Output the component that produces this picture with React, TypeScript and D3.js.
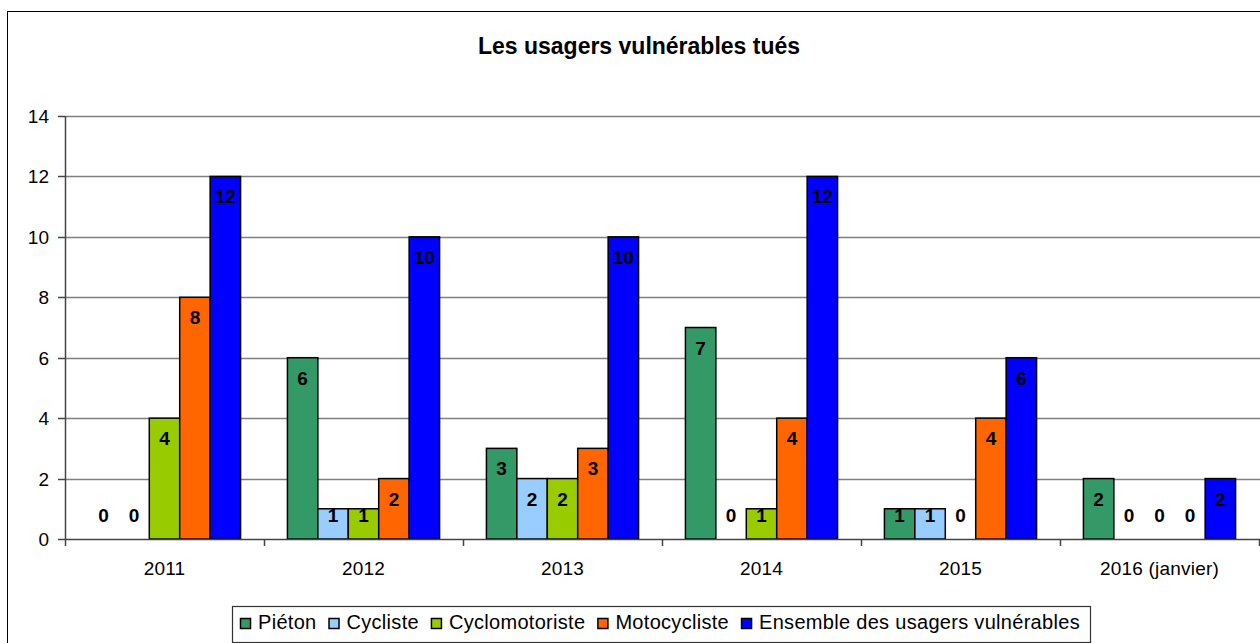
import React, { useEffect, useRef } from 'react';
import * as d3 from 'd3';

const categories = ['2011', '2012', '2013', '2014', '2015', '2016 (janvier)'];
const seriesNames = ['Piéton', 'Cycliste', 'Cyclomotoriste', 'Motocycliste', 'Ensemble des usagers vulnérables'];
const seriesColors = ['#339966', '#99CCFF', '#99CC00', '#FF6600', '#0000FF'];
const pieton = [0, 6, 3, 7, 1, 2];
const cycliste = [0, 1, 2, 0, 1, 0];
const cyclomotoriste = [4, 1, 2, 1, 0, 0];
const motocycliste = [8, 2, 3, 4, 4, 0];
const ensemble = [12, 10, 10, 12, 6, 2];
const yTicks = [0, 2, 4, 6, 8, 10, 12, 14];

const seriesValues = [pieton, cycliste, cyclomotoriste, motocycliste, ensemble];

const W = 1260;
const H = 643;
const FONT = 'Arial, "Liberation Sans", sans-serif';

const App: React.FC = () => {
  const svgRef = useRef<SVGSVGElement | null>(null);

  useEffect(() => {
    if (!svgRef.current) return;
    const svg = d3.select(svgRef.current);
    svg.selectAll('*').remove();

    const plot = { left: 65, right: 1259, top: 116, bottom: 539 };

    // outer frame
    svg.append('rect')
      .attr('x', 7.5).attr('y', 11.5)
      .attr('width', W + 20).attr('height', H + 20)
      .attr('fill', '#fff').attr('stroke', '#000').attr('stroke-width', 1);

    svg.append('text')
      .attr('x', 639).attr('y', 54)
      .attr('text-anchor', 'middle')
      .style('font-family', FONT).style('font-size', '23px').style('font-weight', 'bold')
      .text('Les usagers vulnérables tués');

    const x0 = d3.scaleBand<string>().domain(categories).range([plot.left, plot.right]);
    const x1 = d3.scaleBand<string>().domain(seriesNames).range([0, x0.bandwidth()]).paddingOuter(0.77);
    const y = d3.scaleLinear().domain([0, 14]).range([plot.bottom, plot.top]);

    // gridlines
    svg.append('g').selectAll('line')
      .data(yTicks.filter(t => t > 0))
      .enter().append('line')
      .attr('x1', plot.left).attr('x2', W)
      .attr('y1', d => Math.round(y(d)) + 0.5).attr('y2', d => Math.round(y(d)) + 0.5)
      .attr('stroke', '#808080').attr('stroke-width', 1.5);

    // y axis
    const yAxis = svg.append('g');
    yAxis.append('line')
      .attr('x1', plot.left + 0.5).attr('x2', plot.left + 0.5)
      .attr('y1', plot.top).attr('y2', plot.bottom)
      .attr('stroke', '#444').attr('stroke-width', 1.5);
    yAxis.selectAll('line.tick')
      .data(yTicks).enter().append('line')
      .attr('class', 'tick')
      .attr('x1', plot.left - 7).attr('x2', plot.left)
      .attr('y1', d => Math.round(y(d)) + 0.5).attr('y2', d => Math.round(y(d)) + 0.5)
      .attr('stroke', '#444').attr('stroke-width', 1.5);
    yAxis.selectAll('text')
      .data(yTicks).enter().append('text')
      .attr('x', plot.left - 16).attr('y', d => y(d) + 7)
      .attr('text-anchor', 'end')
      .style('font-family', FONT).style('font-size', '19px')
      .text(d => d);

    // bars
    const groups = svg.append('g').selectAll('g')
      .data(categories).enter().append('g')
      .attr('transform', d => `translate(${x0(d)},0)`);

    groups.each(function (cat, ci) {
      const g = d3.select(this);
      const items = seriesNames.map((name, si) => ({ name, si, value: seriesValues[si][ci] }));
      g.selectAll('rect')
        .data(items.filter(d => d.value > 0)).enter().append('rect')
        .attr('x', d => x1(d.name) as number)
        .attr('y', d => y(d.value))
        .attr('width', x1.bandwidth())
        .attr('height', d => y(0) - y(d.value))
        .attr('fill', d => seriesColors[d.si])
        .attr('stroke', '#000').attr('stroke-width', 1.5);
      g.selectAll('text')
        .data(items).enter().append('text')
        .attr('x', d => (x1(d.name) as number) + x1.bandwidth() / 2)
        .attr('y', d => Math.min(y(d.value) + 27, y(0) - 17))
        .attr('text-anchor', 'middle')
        .style('font-family', FONT).style('font-size', '19px').style('font-weight', 'bold')
        .attr('fill', '#000')
        .text(d => d.value);
    });

    // x axis
    const xAxis = svg.append('g');
    xAxis.append('line')
      .attr('x1', plot.left).attr('x2', W)
      .attr('y1', plot.bottom + 0.5).attr('y2', plot.bottom + 0.5)
      .attr('stroke', '#444').attr('stroke-width', 1.5);
    xAxis.selectAll('line.tick')
      .data(categories.map(c => x0(c) as number).concat([plot.right]))
      .enter().append('line')
      .attr('class', 'tick')
      .attr('x1', d => Math.round(d) + 0.5).attr('x2', d => Math.round(d) + 0.5)
      .attr('y1', plot.bottom).attr('y2', plot.bottom + 7)
      .attr('stroke', '#444').attr('stroke-width', 1.5);
    xAxis.selectAll('text')
      .data(categories).enter().append('text')
      .attr('x', d => (x0(d) as number) + x0.bandwidth() / 2)
      .attr('y', 575)
      .attr('text-anchor', 'middle')
      .style('font-family', FONT).style('font-size', '19px')
      .style('letter-spacing', '0.2px')
      .text(d => d);

    // legend
    const legend = svg.append('g');
    legend.append('rect')
      .attr('x', 232.5).attr('y', 606.5)
      .attr('width', 858).attr('height', 36)
      .attr('fill', '#fff').attr('stroke', '#333').attr('stroke-width', 1.2);
    let lx = 240;
    seriesNames.forEach((name, i) => {
      legend.append('rect')
        .attr('x', lx + 0.5).attr('y', 618.5)
        .attr('width', 10).attr('height', 10)
        .attr('fill', seriesColors[i]).attr('stroke', '#000').attr('stroke-width', 1.5);
      const t = legend.append('text')
        .attr('x', lx + 18).attr('y', 629)
        .style('font-family', FONT).style('font-size', '20px')
        .style('letter-spacing', '0.3px')
        .text(name);
      const w = (t.node() as SVGTextElement).getComputedTextLength();
      lx = lx + 18 + w + 12;
    });
  }, []);

  return (
    <svg ref={svgRef} width={W} height={H}
      style={{ position: 'absolute', left: 0, top: 0, background: '#fff' }} />
  );
};

export default App;
